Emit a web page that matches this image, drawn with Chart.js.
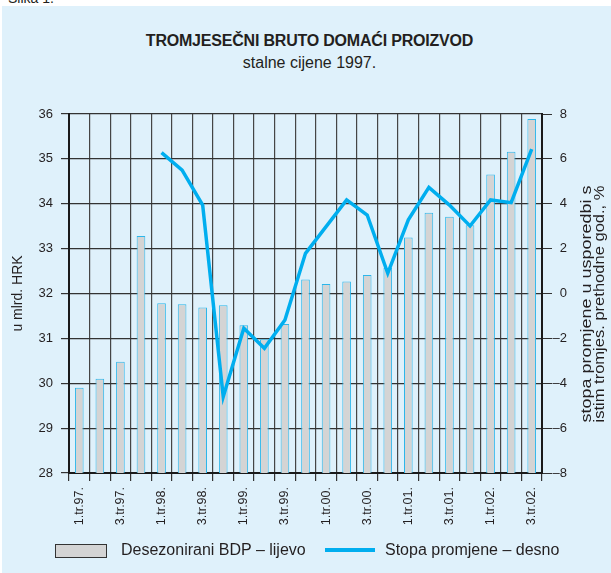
<!DOCTYPE html>
<html>
<head>
<meta charset="utf-8">
<script src="https://cdn.jsdelivr.net/npm/chart.js@4.4.1/dist/chart.umd.min.js"></script>
<style>
  html,body{margin:0;padding:0;background:#fff;}
  body{width:611px;height:573px;position:relative;overflow:hidden;font-family:"Liberation Sans",Arial,sans-serif;color:#231f20;}
  #panel{position:absolute;left:2px;top:6px;right:0;bottom:0;background:#dff1fb;}
  #slika{position:absolute;left:8px;top:-10px;font-size:14px;}
  .ttl{position:absolute;left:0;width:619px;text-align:center;}
  #t1{top:32px;font-size:16px;font-weight:bold;letter-spacing:-0.2px;}
  #t2{top:54px;font-size:16px;}
  #chart{position:absolute;left:0;top:0;}
  .lg{position:absolute;font-size:16px;top:541px;white-space:nowrap;}
</style>
</head>
<body>
<div id="panel"></div>
<div id="slika">Slika 1.</div>
<div class="ttl" id="t1">TROMJESEČNI BRUTO DOMAĆI PROIZVOD</div>
<div class="ttl" id="t2">stalne cijene 1997.</div>
<canvas id="chart" width="611" height="573"></canvas>
<div id="legend"></div>
<script>
// quarters 1997 Q1 .. 2002 Q3
const quarters = ['1.tr.97.','2.tr.97.','3.tr.97.','4.tr.97.',
  '1.tr.98.','2.tr.98.','3.tr.98.','4.tr.98.',
  '1.tr.99.','2.tr.99.','3.tr.99.','4.tr.99.',
  '1.tr.00.','2.tr.00.','3.tr.00.','4.tr.00.',
  '1.tr.01.','2.tr.01.','3.tr.01.','4.tr.01.',
  '1.tr.02.','2.tr.02.','3.tr.02.'];
// seasonally adjusted GDP, bn HRK (left axis)
const gdp = [29.9, 30.1, 30.48, 33.28, 31.78, 31.76, 31.69, 31.74, 31.29, 30.98, 31.32, 32.31,
  32.21, 32.27, 32.41, 32.57, 33.25, 33.8, 33.71, 33.52, 34.65, 35.16, 35.89];
// y-o-y growth rate, % (right axis)
const growth = [null, null, null, null, 6.28, 5.5, 3.94, -4.6, -1.55, -2.44, -1.18, 1.79,
  2.98, 4.17, 3.5, 0.9, 3.28, 4.73, 3.94, 3.01, 4.17, 4.05, 6.43];
const leftTicks = {min:28, max:36, step:1};
const rightTicks = {min:-8, max:8, step:2};

const barLabel = 'Desezonirani BDP – lijevo';
const lineLabel = 'Stopa promjene – desno';
const rightTitle = ['stopa promjene u usporedbi s', 'istim tromjes. prethodne god., %'];

const FONT = '"Liberation Sans", Arial, sans-serif';
const minus = v => String(v).replace('-', '\u2013');

// axis titles drawn by hand so both read bottom-to-top
const axisTitles = {
  id:'axisTitles',
  afterDraw(chart){
    const ctx = chart.ctx, a = chart.chartArea;
    ctx.save();
    ctx.fillStyle = '#231f20';
    ctx.textBaseline = 'middle';
    ctx.textAlign = 'center';
    ctx.font = '14px ' + FONT;
    // left
    ctx.save();
    ctx.translate(18, (a.top + a.bottom)/2);
    ctx.rotate(-Math.PI/2);
    ctx.fillText('u mlrd. HRK', 0, 0);
    ctx.restore();
    // right: two lines stretched to the same length (~237px)
    rightTitle.forEach((t, i)=>{
      ctx.save();
      ctx.translate(587 + i*13.5, 304);
      ctx.rotate(-Math.PI/2);
      ctx.scale(237/ctx.measureText(t).width, 1);
      ctx.fillText(t, 0, 0);
      ctx.restore();
    });
    ctx.restore();
  }
};

new Chart(document.getElementById('chart'), {
  data:{
    labels: quarters,
    datasets:[
      {type:'line', label:lineLabel, data:growth, yAxisID:'y2', order:1,
       borderColor:'#00aeef', borderWidth:3.5, pointRadius:0, tension:0, spanGaps:false},
      {type:'bar', label:barLabel, data:gdp, yAxisID:'y', order:2,
       backgroundColor:'#d4d4d4', borderColor:'#2cb6ea', borderWidth:1,
       categoryPercentage:1, barPercentage:0.42}
    ]
  },
  options:{
    responsive:false, animation:false,
    layout:{padding:{top:114, left:0, right:44, bottom:0}},
    plugins:{legend:{display:false}, tooltip:{enabled:false}},
    scales:{
      x:{
        grid:{offset:true, color:'#454545', lineWidth:1.2, tickLength:8, tickColor:'#333'},
        border:{color:'#1a1a1a', width:2},
        ticks:{autoSkip:false, maxRotation:90, minRotation:90, padding:6, color:'#231f20',
          font:{family:FONT, size:12.5},
          callback:(v,i)=> i%2===0 ? quarters[i] : ''},
        afterFit:s=>{ s.height = 100; }
      },
      y:{
        position:'left', min:leftTicks.min, max:leftTicks.max,
        grid:{color:'#333', lineWidth:1.2, tickLength:8},
        border:{color:'#1a1a1a', width:2},
        ticks:{stepSize:leftTicks.step, padding:8, color:'#231f20', font:{family:FONT, size:13}},
        afterFit:s=>{ s.width = 69; }
      },
      y2:{
        position:'right', min:rightTicks.min, max:rightTicks.max,
        grid:{drawOnChartArea:false, color:'#333', tickLength:10},
        border:{color:'#1a1a1a', width:2},
        ticks:{stepSize:rightTicks.step, crossAlign:'far', color:'#231f20', font:{family:FONT, size:13},
          callback:v=>minus(v)},
        afterFit:s=>{ s.width = 25; }
      }
    }
  },
  plugins:[axisTitles]
});

// simple legend under the chart
document.getElementById('legend').innerHTML =
  `<div class="lg" style="left:55px;top:544px;width:50px;height:12px;background:#d4d4d4;border:1px solid #333;"></div>
   <div class="lg" style="left:121px">${barLabel}</div>
   <div class="lg" style="left:325px;top:548px;width:50px;height:4px;background:#00aeef;"></div>
   <div class="lg" style="left:385px">${lineLabel}</div>`;
</script>
</body>
</html>
